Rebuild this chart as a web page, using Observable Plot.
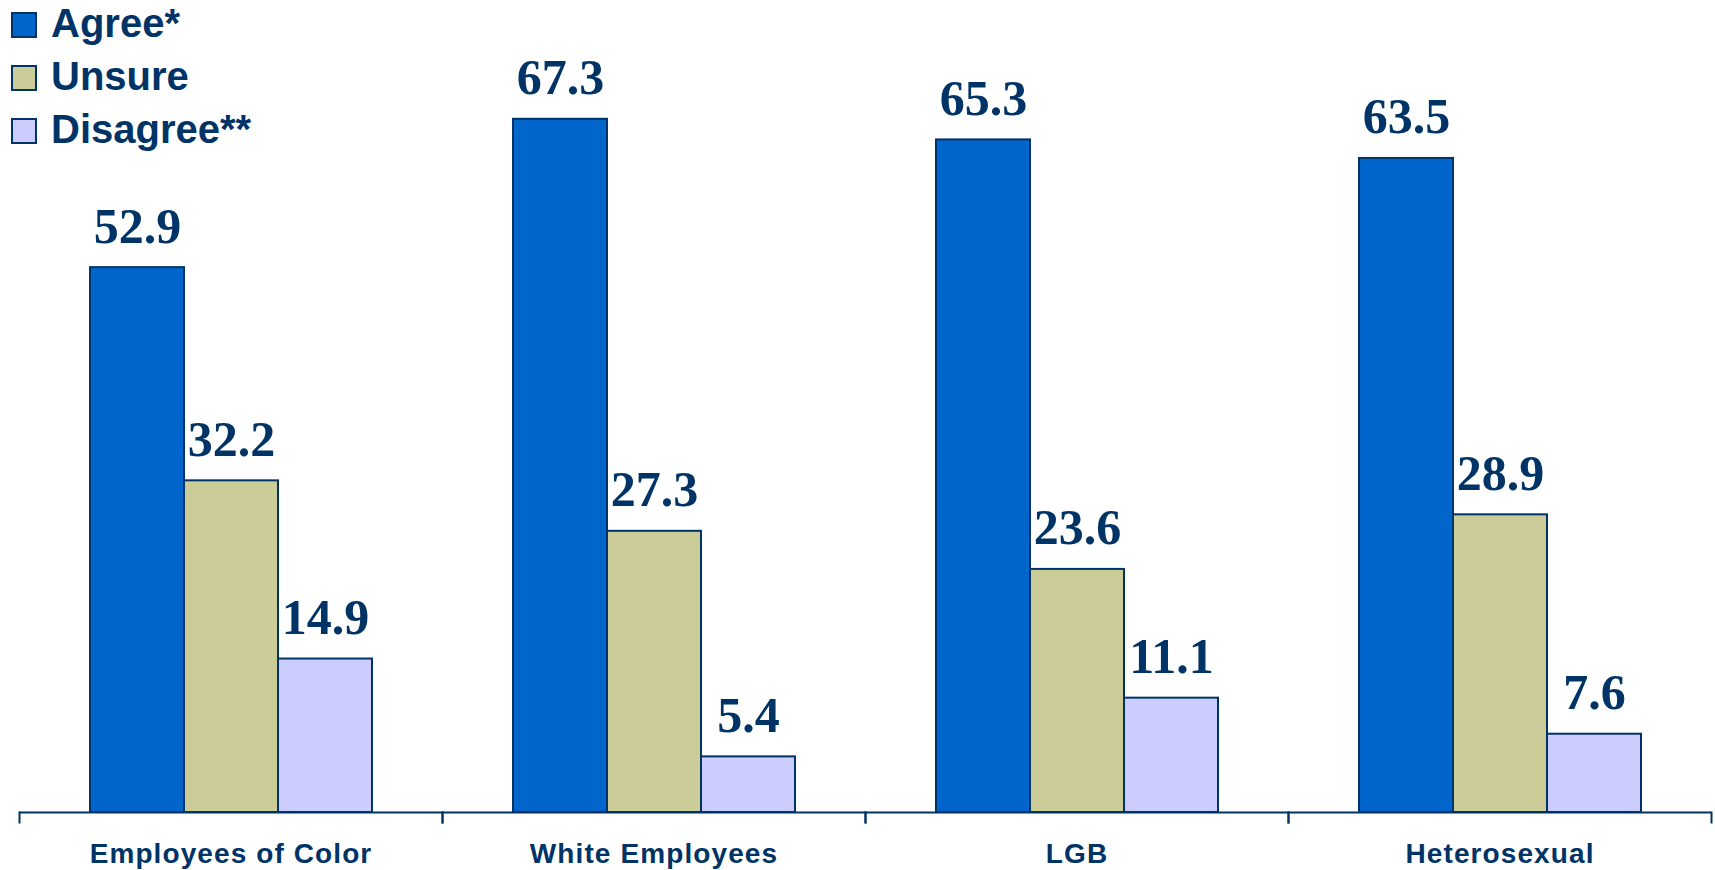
<!DOCTYPE html>
<html>
<head>
<meta charset="utf-8">
<script src="https://cdn.jsdelivr.net/npm/d3@7"></script>
<script src="https://cdn.jsdelivr.net/npm/@observablehq/plot@0.6"></script>
<style>
  html, body { margin: 0; padding: 0; background: #fff; }
  #wrap { position: relative; width: 1715px; height: 870px; }
  #legend { position: absolute; left: 11px; top: -3px; font-family: "Liberation Sans", Arial, sans-serif; font-weight: bold; font-size: 40px; color: #003366; }
  #legend .row { display: flex; align-items: center; height: 53px; }
  #legend .sw { width: 22px; height: 22px; border: 2px solid #003366; margin-right: 14px; margin-top: 3px; box-sizing: content-box; }
  g[aria-label="fx-axis tick label"] text { letter-spacing: 1.1px; }
</style>
</head>
<body>
<div id="wrap">
  <div id="chart"></div>
  <div id="legend"></div>
</div>
<script>
const groups = ["Employees of Color", "White Employees", "LGB", "Heterosexual"];
const seriesNames = ["Agree*", "Unsure", "Disagree**"];
const agree = [52.9, 67.3, 65.3, 63.5];
const unsure = [32.2, 27.3, 23.6, 28.9];
const disagree = [14.9, 5.4, 11.1, 7.6];
const colors = ["#0066CC", "#CCCC99", "#CCCCFF"];

const seriesValues = [agree, unsure, disagree];
const data = [];
groups.forEach((g, i) => {
  seriesNames.forEach((s, j) => data.push({group: g, series: s, value: seriesValues[j][i]}));
});

const navy = "#003366";

const chart = Plot.plot({
  width: 1715,
  height: 870,
  marginLeft: 18,
  marginRight: 3,
  marginTop: 91,
  marginBottom: 58,
  style: {background: "transparent"},
  fx: {domain: groups, padding: 0, label: null},
  x: {domain: seriesNames, paddingInner: 0, paddingOuter: 0.75, axis: null},
  y: {domain: [0, 70], axis: null},
  color: {domain: seriesNames, range: colors},
  marks: [
    Plot.barY(data, {fx: "group", x: "series", y: "value", fill: "series", stroke: navy, strokeWidth: 2}),
    Plot.text(data, {
      fx: "group", x: "series", y: "value",
      text: d => d.value.toFixed(1),
      lineAnchor: "bottom", dy: -25,
      fontFamily: "'Liberation Serif', 'Times New Roman', serif",
      fontWeight: "bold", fontSize: 50, fill: navy
    }),
    Plot.ruleY([0], {stroke: navy, strokeWidth: 2}),
    Plot.frame({anchor: "left", stroke: navy, strokeWidth: 2, insetTop: 721, insetBottom: -10}),
    Plot.frame({anchor: "right", stroke: navy, strokeWidth: 2, insetTop: 721, insetBottom: -10}),
    Plot.axisFx({
      anchor: "bottom", tickSize: 0, tickPadding: 31, label: null,
      fontSize: 28, fontWeight: "bold",
      fontFamily: "'Liberation Sans', Arial, sans-serif",
      fill: navy
    })
  ]
});
document.getElementById("chart").appendChild(chart);

const legend = document.getElementById("legend");
seriesNames.forEach((s, i) => {
  const row = document.createElement("div");
  row.className = "row";
  const sw = document.createElement("span");
  sw.className = "sw";
  sw.style.background = colors[i];
  const t = document.createElement("span");
  t.textContent = s;
  row.appendChild(sw);
  row.appendChild(t);
  legend.appendChild(row);
});
</script>
</body>
</html>
